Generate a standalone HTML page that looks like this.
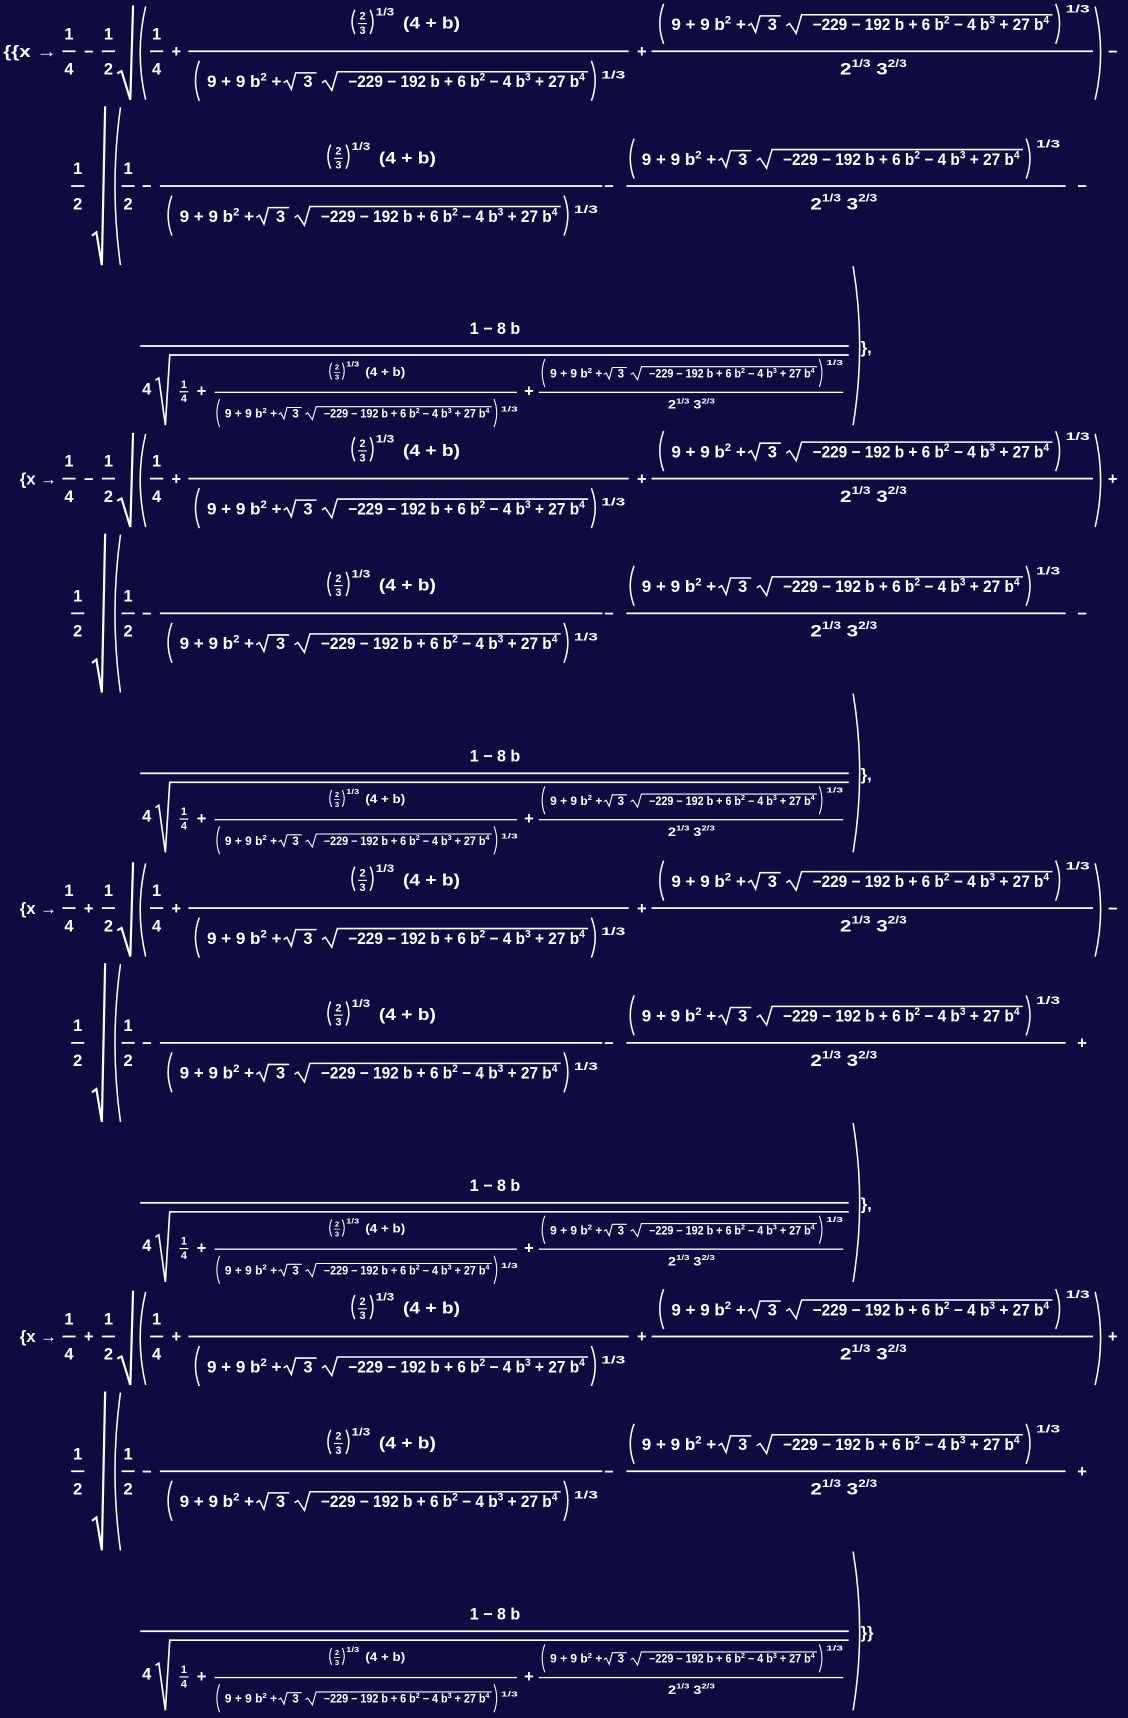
<!DOCTYPE html>
<html><head><meta charset="utf-8"><style>
html,body{margin:0;padding:0;background:#0d0b3f;}
svg{display:block;}
text{fill:#fff;font-family:"Liberation Sans",sans-serif;font-weight:bold;font-size:15px;}
.m{text-anchor:middle;}
.s{font-size:10px;}
path{fill:none;stroke:#fff;stroke-width:1.4;}
.r{stroke-width:2;}
rect{fill:#fff;}
</style></head><body>
<svg width="1128" height="1718" viewBox="0 0 1030 1568" preserveAspectRatio="none" xmlns="http://www.w3.org/2000/svg">
<rect x="0" y="0" width="1030" height="1568" style="fill:#0d0b3f"/>

<!-- ================= BLOCK 1 ================= -->
<g transform="translate(0,0)">
<text x="52" y="52" text-anchor="end" textLength="49" lengthAdjust="spacingAndGlyphs">{{x →</text>
<text x="63" y="36" class="m">1</text><rect x="57" y="46" width="12" height="1.6"/><text x="63" y="68" class="m">4</text>
<text x="81" y="52" class="m">−</text>
<text x="99" y="36" class="m">1</text><rect x="93" y="46" width="12" height="1.6"/><text x="99" y="68" class="m">2</text>
<path class="r" d="M107,67 L111,65 L119,91 L121.5,5"/>
<path d="M133,6 Q123,48 133,91"/>
<text x="143" y="36" class="m">1</text><rect x="137" y="46" width="12" height="1.6"/><text x="143" y="68" class="m">4</text>
<text x="161" y="52" class="m">+</text>
<rect x="172" y="46" width="402" height="1.6"/>
<g transform="translate(370,26)"><path d="M-46,-17 Q-51,-6 -46,5"/><text x="-39" y="-8" class="s m">2</text><rect x="-43" y="-5" width="8" height="1"/><text x="-39" y="5" class="s m">3</text><path d="M-32,-17 Q-27,-6 -32,5"/><text x="-27" y="-12" class="s" textLength="17" lengthAdjust="spacingAndGlyphs">1/3</text><text x="-2" textLength="52" lengthAdjust="spacingAndGlyphs">(4 + b)</text></g>
<g transform="translate(177,79.5)"><path d="M5,-24 Q-2,-6 5,12.5"/><text x="12" textLength="68" lengthAdjust="spacingAndGlyphs">9 + 9 b<tspan dy="-6" font-size="10">2</tspan><tspan dy="6"> +</tspan></text><path d="M82,-4 L85,-6 L89,2 L93,-13 L112,-13"/><text x="100">3</text><path d="M117,-4 L120,-6 L126,3 L131,-14 L360,-14"/><text x="141" textLength="216" lengthAdjust="spacingAndGlyphs">−229 − 192 b + 6 b<tspan dy="-6" font-size="10">2</tspan><tspan dy="6"> − 4 b</tspan><tspan dy="-6" font-size="10">3</tspan><tspan dy="6"> + 27 b</tspan><tspan dy="-6" font-size="10">4</tspan></text><path d="M363,-24 Q370,-6 363,12.5"/><text x="372" y="-8" class="s" textLength="22" lengthAdjust="spacingAndGlyphs">1/3</text></g>
<text x="586" y="52" class="m">+</text>
<rect x="595" y="46" width="403" height="1.6"/>
<g transform="translate(601,27.5)"><path d="M5,-24 Q-2,-6 5,12.5"/><text x="12" textLength="68" lengthAdjust="spacingAndGlyphs">9 + 9 b<tspan dy="-6" font-size="10">2</tspan><tspan dy="6"> +</tspan></text><path d="M82,-4 L85,-6 L89,2 L93,-13 L112,-13"/><text x="100">3</text><path d="M117,-4 L120,-6 L126,3 L131,-14 L360,-14"/><text x="141" textLength="216" lengthAdjust="spacingAndGlyphs">−229 − 192 b + 6 b<tspan dy="-6" font-size="10">2</tspan><tspan dy="6"> − 4 b</tspan><tspan dy="-6" font-size="10">3</tspan><tspan dy="6"> + 27 b</tspan><tspan dy="-6" font-size="10">4</tspan></text><path d="M363,-24 Q370,-6 363,12.5"/><text x="372" y="-16" class="s" textLength="22" lengthAdjust="spacingAndGlyphs">1/3</text></g>
<g transform="translate(797,68)"><text x="-30" textLength="61" lengthAdjust="spacingAndGlyphs">2<tspan dy="-7" font-size="10">1/3</tspan><tspan dy="7"> 3</tspan><tspan dy="-7" font-size="10">2/3</tspan></text></g>
<path d="M1000,6 Q1010,48 1000,91"/>
<text x="1016" y="52" class="m">−</text>

<text x="71" y="159" class="m">1</text><rect x="65" y="169" width="12" height="1.6"/><text x="71" y="191" class="m">2</text>
<path class="r" d="M84,215 L88,212 L93,242 L96,97"/>
<path d="M110,98 Q100,170 110,242"/>
<text x="117" y="159" class="m">1</text><rect x="111" y="169" width="12" height="1.6"/><text x="117" y="191" class="m">2</text>
<text x="134" y="175" class="m">−</text>
<rect x="146" y="169" width="404" height="1.6"/>
<g transform="translate(348,149)"><path d="M-46,-17 Q-51,-6 -46,5"/><text x="-39" y="-8" class="s m">2</text><rect x="-43" y="-5" width="8" height="1"/><text x="-39" y="5" class="s m">3</text><path d="M-32,-17 Q-27,-6 -32,5"/><text x="-27" y="-12" class="s" textLength="17" lengthAdjust="spacingAndGlyphs">1/3</text><text x="-2" textLength="52" lengthAdjust="spacingAndGlyphs">(4 + b)</text></g>
<g transform="translate(152,202.5)"><path d="M5,-24 Q-2,-6 5,12.5"/><text x="12" textLength="68" lengthAdjust="spacingAndGlyphs">9 + 9 b<tspan dy="-6" font-size="10">2</tspan><tspan dy="6"> +</tspan></text><path d="M82,-4 L85,-6 L89,2 L93,-13 L112,-13"/><text x="100">3</text><path d="M117,-4 L120,-6 L126,3 L131,-14 L360,-14"/><text x="141" textLength="216" lengthAdjust="spacingAndGlyphs">−229 − 192 b + 6 b<tspan dy="-6" font-size="10">2</tspan><tspan dy="6"> − 4 b</tspan><tspan dy="-6" font-size="10">3</tspan><tspan dy="6"> + 27 b</tspan><tspan dy="-6" font-size="10">4</tspan></text><path d="M363,-24 Q370,-6 363,12.5"/><text x="372" y="-8" class="s" textLength="22" lengthAdjust="spacingAndGlyphs">1/3</text></g>
<text x="556" y="175" class="m">−</text>
<rect x="572" y="169" width="401" height="1.6"/>
<g transform="translate(574,150.5)"><path d="M5,-24 Q-2,-6 5,12.5"/><text x="12" textLength="68" lengthAdjust="spacingAndGlyphs">9 + 9 b<tspan dy="-6" font-size="10">2</tspan><tspan dy="6"> +</tspan></text><path d="M82,-4 L85,-6 L89,2 L93,-13 L112,-13"/><text x="100">3</text><path d="M117,-4 L120,-6 L126,3 L131,-14 L360,-14"/><text x="141" textLength="216" lengthAdjust="spacingAndGlyphs">−229 − 192 b + 6 b<tspan dy="-6" font-size="10">2</tspan><tspan dy="6"> − 4 b</tspan><tspan dy="-6" font-size="10">3</tspan><tspan dy="6"> + 27 b</tspan><tspan dy="-6" font-size="10">4</tspan></text><path d="M363,-24 Q370,-6 363,12.5"/><text x="372" y="-16" class="s" textLength="22" lengthAdjust="spacingAndGlyphs">1/3</text></g>
<g transform="translate(770,191)"><text x="-30" textLength="61" lengthAdjust="spacingAndGlyphs">2<tspan dy="-7" font-size="10">1/3</tspan><tspan dy="7"> 3</tspan><tspan dy="-7" font-size="10">2/3</tspan></text></g>
<text x="988" y="175" class="m">−</text>

<text x="452" y="305" class="m" textLength="46" lengthAdjust="spacingAndGlyphs">1 − 8 b</text>
<rect x="128" y="315" width="647" height="1.6"/>
<text x="134" y="360" class="m">4</text>
<path d="M142,347 L145,345 L151,388 L155,324 L775,324" style="stroke-width:1.5"/>
<text x="168" y="354" class="s m">1</text><rect x="164" y="357" width="8" height="1.1"/><text x="168" y="367" class="s m">4</text>
<text x="184" y="362" class="m">+</text>
<rect x="196" y="357.5" width="276" height="1.2"/>
<g transform="translate(335,343) scale(0.7)"><path d="M-46,-17 Q-51,-6 -46,5"/><text x="-39" y="-8" class="s m">2</text><rect x="-43" y="-5" width="8" height="1"/><text x="-39" y="5" class="s m">3</text><path d="M-32,-17 Q-27,-6 -32,5"/><text x="-27" y="-12" class="s" textLength="17" lengthAdjust="spacingAndGlyphs">1/3</text><text x="-2" textLength="52" lengthAdjust="spacingAndGlyphs">(4 + b)</text></g>
<g transform="translate(197,381) scale(0.7)"><path d="M5,-24 Q-2,-6 5,12.5"/><text x="12" textLength="68" lengthAdjust="spacingAndGlyphs">9 + 9 b<tspan dy="-6" font-size="10">2</tspan><tspan dy="6"> +</tspan></text><path d="M82,-4 L85,-6 L89,2 L93,-13 L112,-13"/><text x="100">3</text><path d="M117,-4 L120,-6 L126,3 L131,-14 L360,-14"/><text x="141" textLength="216" lengthAdjust="spacingAndGlyphs">−229 − 192 b + 6 b<tspan dy="-6" font-size="10">2</tspan><tspan dy="6"> − 4 b</tspan><tspan dy="-6" font-size="10">3</tspan><tspan dy="6"> + 27 b</tspan><tspan dy="-6" font-size="10">4</tspan></text><path d="M363,-24 Q370,-6 363,12.5"/><text x="372" y="-8" class="s" textLength="22" lengthAdjust="spacingAndGlyphs">1/3</text></g>
<text x="483" y="362" class="m">+</text>
<rect x="492" y="357.5" width="278" height="1.2"/>
<g transform="translate(494,344.5) scale(0.7)"><path d="M5,-24 Q-2,-6 5,12.5"/><text x="12" textLength="68" lengthAdjust="spacingAndGlyphs">9 + 9 b<tspan dy="-6" font-size="10">2</tspan><tspan dy="6"> +</tspan></text><path d="M82,-4 L85,-6 L89,2 L93,-13 L112,-13"/><text x="100">3</text><path d="M117,-4 L120,-6 L126,3 L131,-14 L360,-14"/><text x="141" textLength="216" lengthAdjust="spacingAndGlyphs">−229 − 192 b + 6 b<tspan dy="-6" font-size="10">2</tspan><tspan dy="6"> − 4 b</tspan><tspan dy="-6" font-size="10">3</tspan><tspan dy="6"> + 27 b</tspan><tspan dy="-6" font-size="10">4</tspan></text><path d="M363,-24 Q370,-6 363,12.5"/><text x="372" y="-16" class="s" textLength="22" lengthAdjust="spacingAndGlyphs">1/3</text></g>
<g transform="translate(631,373) scale(0.7)"><text x="-30" textLength="61" lengthAdjust="spacingAndGlyphs">2<tspan dy="-7" font-size="10">1/3</tspan><tspan dy="7"> 3</tspan><tspan dy="-7" font-size="10">2/3</tspan></text></g>
<path d="M779,243 Q791,315 779,388"/>
<text x="786" y="322">},</text>
</g>

<!-- ================= BLOCK 2 ================= -->
<g transform="translate(0,390)">
<text x="52" y="52" text-anchor="end" textLength="34" lengthAdjust="spacingAndGlyphs">{x →</text>
<text x="63" y="36" class="m">1</text><rect x="57" y="46" width="12" height="1.6"/><text x="63" y="68" class="m">4</text>
<text x="81" y="52" class="m">−</text>
<text x="99" y="36" class="m">1</text><rect x="93" y="46" width="12" height="1.6"/><text x="99" y="68" class="m">2</text>
<path class="r" d="M107,67 L111,65 L119,91 L121.5,5"/>
<path d="M133,6 Q123,48 133,91"/>
<text x="143" y="36" class="m">1</text><rect x="137" y="46" width="12" height="1.6"/><text x="143" y="68" class="m">4</text>
<text x="161" y="52" class="m">+</text>
<rect x="172" y="46" width="402" height="1.6"/>
<g transform="translate(370,26)"><path d="M-46,-17 Q-51,-6 -46,5"/><text x="-39" y="-8" class="s m">2</text><rect x="-43" y="-5" width="8" height="1"/><text x="-39" y="5" class="s m">3</text><path d="M-32,-17 Q-27,-6 -32,5"/><text x="-27" y="-12" class="s" textLength="17" lengthAdjust="spacingAndGlyphs">1/3</text><text x="-2" textLength="52" lengthAdjust="spacingAndGlyphs">(4 + b)</text></g>
<g transform="translate(177,79.5)"><path d="M5,-24 Q-2,-6 5,12.5"/><text x="12" textLength="68" lengthAdjust="spacingAndGlyphs">9 + 9 b<tspan dy="-6" font-size="10">2</tspan><tspan dy="6"> +</tspan></text><path d="M82,-4 L85,-6 L89,2 L93,-13 L112,-13"/><text x="100">3</text><path d="M117,-4 L120,-6 L126,3 L131,-14 L360,-14"/><text x="141" textLength="216" lengthAdjust="spacingAndGlyphs">−229 − 192 b + 6 b<tspan dy="-6" font-size="10">2</tspan><tspan dy="6"> − 4 b</tspan><tspan dy="-6" font-size="10">3</tspan><tspan dy="6"> + 27 b</tspan><tspan dy="-6" font-size="10">4</tspan></text><path d="M363,-24 Q370,-6 363,12.5"/><text x="372" y="-8" class="s" textLength="22" lengthAdjust="spacingAndGlyphs">1/3</text></g>
<text x="586" y="52" class="m">+</text>
<rect x="595" y="46" width="403" height="1.6"/>
<g transform="translate(601,27.5)"><path d="M5,-24 Q-2,-6 5,12.5"/><text x="12" textLength="68" lengthAdjust="spacingAndGlyphs">9 + 9 b<tspan dy="-6" font-size="10">2</tspan><tspan dy="6"> +</tspan></text><path d="M82,-4 L85,-6 L89,2 L93,-13 L112,-13"/><text x="100">3</text><path d="M117,-4 L120,-6 L126,3 L131,-14 L360,-14"/><text x="141" textLength="216" lengthAdjust="spacingAndGlyphs">−229 − 192 b + 6 b<tspan dy="-6" font-size="10">2</tspan><tspan dy="6"> − 4 b</tspan><tspan dy="-6" font-size="10">3</tspan><tspan dy="6"> + 27 b</tspan><tspan dy="-6" font-size="10">4</tspan></text><path d="M363,-24 Q370,-6 363,12.5"/><text x="372" y="-16" class="s" textLength="22" lengthAdjust="spacingAndGlyphs">1/3</text></g>
<g transform="translate(797,68)"><text x="-30" textLength="61" lengthAdjust="spacingAndGlyphs">2<tspan dy="-7" font-size="10">1/3</tspan><tspan dy="7"> 3</tspan><tspan dy="-7" font-size="10">2/3</tspan></text></g>
<path d="M1000,6 Q1010,48 1000,91"/>
<text x="1016" y="52" class="m">+</text>

<text x="71" y="159" class="m">1</text><rect x="65" y="169" width="12" height="1.6"/><text x="71" y="191" class="m">2</text>
<path class="r" d="M84,215 L88,212 L93,242 L96,97"/>
<path d="M110,98 Q100,170 110,242"/>
<text x="117" y="159" class="m">1</text><rect x="111" y="169" width="12" height="1.6"/><text x="117" y="191" class="m">2</text>
<text x="134" y="175" class="m">−</text>
<rect x="146" y="169" width="404" height="1.6"/>
<g transform="translate(348,149)"><path d="M-46,-17 Q-51,-6 -46,5"/><text x="-39" y="-8" class="s m">2</text><rect x="-43" y="-5" width="8" height="1"/><text x="-39" y="5" class="s m">3</text><path d="M-32,-17 Q-27,-6 -32,5"/><text x="-27" y="-12" class="s" textLength="17" lengthAdjust="spacingAndGlyphs">1/3</text><text x="-2" textLength="52" lengthAdjust="spacingAndGlyphs">(4 + b)</text></g>
<g transform="translate(152,202.5)"><path d="M5,-24 Q-2,-6 5,12.5"/><text x="12" textLength="68" lengthAdjust="spacingAndGlyphs">9 + 9 b<tspan dy="-6" font-size="10">2</tspan><tspan dy="6"> +</tspan></text><path d="M82,-4 L85,-6 L89,2 L93,-13 L112,-13"/><text x="100">3</text><path d="M117,-4 L120,-6 L126,3 L131,-14 L360,-14"/><text x="141" textLength="216" lengthAdjust="spacingAndGlyphs">−229 − 192 b + 6 b<tspan dy="-6" font-size="10">2</tspan><tspan dy="6"> − 4 b</tspan><tspan dy="-6" font-size="10">3</tspan><tspan dy="6"> + 27 b</tspan><tspan dy="-6" font-size="10">4</tspan></text><path d="M363,-24 Q370,-6 363,12.5"/><text x="372" y="-8" class="s" textLength="22" lengthAdjust="spacingAndGlyphs">1/3</text></g>
<text x="556" y="175" class="m">−</text>
<rect x="572" y="169" width="401" height="1.6"/>
<g transform="translate(574,150.5)"><path d="M5,-24 Q-2,-6 5,12.5"/><text x="12" textLength="68" lengthAdjust="spacingAndGlyphs">9 + 9 b<tspan dy="-6" font-size="10">2</tspan><tspan dy="6"> +</tspan></text><path d="M82,-4 L85,-6 L89,2 L93,-13 L112,-13"/><text x="100">3</text><path d="M117,-4 L120,-6 L126,3 L131,-14 L360,-14"/><text x="141" textLength="216" lengthAdjust="spacingAndGlyphs">−229 − 192 b + 6 b<tspan dy="-6" font-size="10">2</tspan><tspan dy="6"> − 4 b</tspan><tspan dy="-6" font-size="10">3</tspan><tspan dy="6"> + 27 b</tspan><tspan dy="-6" font-size="10">4</tspan></text><path d="M363,-24 Q370,-6 363,12.5"/><text x="372" y="-16" class="s" textLength="22" lengthAdjust="spacingAndGlyphs">1/3</text></g>
<g transform="translate(770,191)"><text x="-30" textLength="61" lengthAdjust="spacingAndGlyphs">2<tspan dy="-7" font-size="10">1/3</tspan><tspan dy="7"> 3</tspan><tspan dy="-7" font-size="10">2/3</tspan></text></g>
<text x="988" y="175" class="m">−</text>

<text x="452" y="305" class="m" textLength="46" lengthAdjust="spacingAndGlyphs">1 − 8 b</text>
<rect x="128" y="315" width="647" height="1.6"/>
<text x="134" y="360" class="m">4</text>
<path d="M142,347 L145,345 L151,388 L155,324 L775,324" style="stroke-width:1.5"/>
<text x="168" y="354" class="s m">1</text><rect x="164" y="357" width="8" height="1.1"/><text x="168" y="367" class="s m">4</text>
<text x="184" y="362" class="m">+</text>
<rect x="196" y="357.5" width="276" height="1.2"/>
<g transform="translate(335,343) scale(0.7)"><path d="M-46,-17 Q-51,-6 -46,5"/><text x="-39" y="-8" class="s m">2</text><rect x="-43" y="-5" width="8" height="1"/><text x="-39" y="5" class="s m">3</text><path d="M-32,-17 Q-27,-6 -32,5"/><text x="-27" y="-12" class="s" textLength="17" lengthAdjust="spacingAndGlyphs">1/3</text><text x="-2" textLength="52" lengthAdjust="spacingAndGlyphs">(4 + b)</text></g>
<g transform="translate(197,381) scale(0.7)"><path d="M5,-24 Q-2,-6 5,12.5"/><text x="12" textLength="68" lengthAdjust="spacingAndGlyphs">9 + 9 b<tspan dy="-6" font-size="10">2</tspan><tspan dy="6"> +</tspan></text><path d="M82,-4 L85,-6 L89,2 L93,-13 L112,-13"/><text x="100">3</text><path d="M117,-4 L120,-6 L126,3 L131,-14 L360,-14"/><text x="141" textLength="216" lengthAdjust="spacingAndGlyphs">−229 − 192 b + 6 b<tspan dy="-6" font-size="10">2</tspan><tspan dy="6"> − 4 b</tspan><tspan dy="-6" font-size="10">3</tspan><tspan dy="6"> + 27 b</tspan><tspan dy="-6" font-size="10">4</tspan></text><path d="M363,-24 Q370,-6 363,12.5"/><text x="372" y="-8" class="s" textLength="22" lengthAdjust="spacingAndGlyphs">1/3</text></g>
<text x="483" y="362" class="m">+</text>
<rect x="492" y="357.5" width="278" height="1.2"/>
<g transform="translate(494,344.5) scale(0.7)"><path d="M5,-24 Q-2,-6 5,12.5"/><text x="12" textLength="68" lengthAdjust="spacingAndGlyphs">9 + 9 b<tspan dy="-6" font-size="10">2</tspan><tspan dy="6"> +</tspan></text><path d="M82,-4 L85,-6 L89,2 L93,-13 L112,-13"/><text x="100">3</text><path d="M117,-4 L120,-6 L126,3 L131,-14 L360,-14"/><text x="141" textLength="216" lengthAdjust="spacingAndGlyphs">−229 − 192 b + 6 b<tspan dy="-6" font-size="10">2</tspan><tspan dy="6"> − 4 b</tspan><tspan dy="-6" font-size="10">3</tspan><tspan dy="6"> + 27 b</tspan><tspan dy="-6" font-size="10">4</tspan></text><path d="M363,-24 Q370,-6 363,12.5"/><text x="372" y="-16" class="s" textLength="22" lengthAdjust="spacingAndGlyphs">1/3</text></g>
<g transform="translate(631,373) scale(0.7)"><text x="-30" textLength="61" lengthAdjust="spacingAndGlyphs">2<tspan dy="-7" font-size="10">1/3</tspan><tspan dy="7"> 3</tspan><tspan dy="-7" font-size="10">2/3</tspan></text></g>
<path d="M779,243 Q791,315 779,388"/>
<text x="786" y="322">},</text>
</g>

<!-- ================= BLOCK 3 ================= -->
<g transform="translate(0,782)">
<text x="52" y="52" text-anchor="end" textLength="34" lengthAdjust="spacingAndGlyphs">{x →</text>
<text x="63" y="36" class="m">1</text><rect x="57" y="46" width="12" height="1.6"/><text x="63" y="68" class="m">4</text>
<text x="81" y="52" class="m">+</text>
<text x="99" y="36" class="m">1</text><rect x="93" y="46" width="12" height="1.6"/><text x="99" y="68" class="m">2</text>
<path class="r" d="M107,67 L111,65 L119,91 L121.5,5"/>
<path d="M133,6 Q123,48 133,91"/>
<text x="143" y="36" class="m">1</text><rect x="137" y="46" width="12" height="1.6"/><text x="143" y="68" class="m">4</text>
<text x="161" y="52" class="m">+</text>
<rect x="172" y="46" width="402" height="1.6"/>
<g transform="translate(370,26)"><path d="M-46,-17 Q-51,-6 -46,5"/><text x="-39" y="-8" class="s m">2</text><rect x="-43" y="-5" width="8" height="1"/><text x="-39" y="5" class="s m">3</text><path d="M-32,-17 Q-27,-6 -32,5"/><text x="-27" y="-12" class="s" textLength="17" lengthAdjust="spacingAndGlyphs">1/3</text><text x="-2" textLength="52" lengthAdjust="spacingAndGlyphs">(4 + b)</text></g>
<g transform="translate(177,79.5)"><path d="M5,-24 Q-2,-6 5,12.5"/><text x="12" textLength="68" lengthAdjust="spacingAndGlyphs">9 + 9 b<tspan dy="-6" font-size="10">2</tspan><tspan dy="6"> +</tspan></text><path d="M82,-4 L85,-6 L89,2 L93,-13 L112,-13"/><text x="100">3</text><path d="M117,-4 L120,-6 L126,3 L131,-14 L360,-14"/><text x="141" textLength="216" lengthAdjust="spacingAndGlyphs">−229 − 192 b + 6 b<tspan dy="-6" font-size="10">2</tspan><tspan dy="6"> − 4 b</tspan><tspan dy="-6" font-size="10">3</tspan><tspan dy="6"> + 27 b</tspan><tspan dy="-6" font-size="10">4</tspan></text><path d="M363,-24 Q370,-6 363,12.5"/><text x="372" y="-8" class="s" textLength="22" lengthAdjust="spacingAndGlyphs">1/3</text></g>
<text x="586" y="52" class="m">+</text>
<rect x="595" y="46" width="403" height="1.6"/>
<g transform="translate(601,27.5)"><path d="M5,-24 Q-2,-6 5,12.5"/><text x="12" textLength="68" lengthAdjust="spacingAndGlyphs">9 + 9 b<tspan dy="-6" font-size="10">2</tspan><tspan dy="6"> +</tspan></text><path d="M82,-4 L85,-6 L89,2 L93,-13 L112,-13"/><text x="100">3</text><path d="M117,-4 L120,-6 L126,3 L131,-14 L360,-14"/><text x="141" textLength="216" lengthAdjust="spacingAndGlyphs">−229 − 192 b + 6 b<tspan dy="-6" font-size="10">2</tspan><tspan dy="6"> − 4 b</tspan><tspan dy="-6" font-size="10">3</tspan><tspan dy="6"> + 27 b</tspan><tspan dy="-6" font-size="10">4</tspan></text><path d="M363,-24 Q370,-6 363,12.5"/><text x="372" y="-16" class="s" textLength="22" lengthAdjust="spacingAndGlyphs">1/3</text></g>
<g transform="translate(797,68)"><text x="-30" textLength="61" lengthAdjust="spacingAndGlyphs">2<tspan dy="-7" font-size="10">1/3</tspan><tspan dy="7"> 3</tspan><tspan dy="-7" font-size="10">2/3</tspan></text></g>
<path d="M1000,6 Q1010,48 1000,91"/>
<text x="1016" y="52" class="m">−</text>

<text x="71" y="159" class="m">1</text><rect x="65" y="169" width="12" height="1.6"/><text x="71" y="191" class="m">2</text>
<path class="r" d="M84,215 L88,212 L93,242 L96,97"/>
<path d="M110,98 Q100,170 110,242"/>
<text x="117" y="159" class="m">1</text><rect x="111" y="169" width="12" height="1.6"/><text x="117" y="191" class="m">2</text>
<text x="134" y="175" class="m">−</text>
<rect x="146" y="169" width="404" height="1.6"/>
<g transform="translate(348,149)"><path d="M-46,-17 Q-51,-6 -46,5"/><text x="-39" y="-8" class="s m">2</text><rect x="-43" y="-5" width="8" height="1"/><text x="-39" y="5" class="s m">3</text><path d="M-32,-17 Q-27,-6 -32,5"/><text x="-27" y="-12" class="s" textLength="17" lengthAdjust="spacingAndGlyphs">1/3</text><text x="-2" textLength="52" lengthAdjust="spacingAndGlyphs">(4 + b)</text></g>
<g transform="translate(152,202.5)"><path d="M5,-24 Q-2,-6 5,12.5"/><text x="12" textLength="68" lengthAdjust="spacingAndGlyphs">9 + 9 b<tspan dy="-6" font-size="10">2</tspan><tspan dy="6"> +</tspan></text><path d="M82,-4 L85,-6 L89,2 L93,-13 L112,-13"/><text x="100">3</text><path d="M117,-4 L120,-6 L126,3 L131,-14 L360,-14"/><text x="141" textLength="216" lengthAdjust="spacingAndGlyphs">−229 − 192 b + 6 b<tspan dy="-6" font-size="10">2</tspan><tspan dy="6"> − 4 b</tspan><tspan dy="-6" font-size="10">3</tspan><tspan dy="6"> + 27 b</tspan><tspan dy="-6" font-size="10">4</tspan></text><path d="M363,-24 Q370,-6 363,12.5"/><text x="372" y="-8" class="s" textLength="22" lengthAdjust="spacingAndGlyphs">1/3</text></g>
<text x="556" y="175" class="m">−</text>
<rect x="572" y="169" width="401" height="1.6"/>
<g transform="translate(574,150.5)"><path d="M5,-24 Q-2,-6 5,12.5"/><text x="12" textLength="68" lengthAdjust="spacingAndGlyphs">9 + 9 b<tspan dy="-6" font-size="10">2</tspan><tspan dy="6"> +</tspan></text><path d="M82,-4 L85,-6 L89,2 L93,-13 L112,-13"/><text x="100">3</text><path d="M117,-4 L120,-6 L126,3 L131,-14 L360,-14"/><text x="141" textLength="216" lengthAdjust="spacingAndGlyphs">−229 − 192 b + 6 b<tspan dy="-6" font-size="10">2</tspan><tspan dy="6"> − 4 b</tspan><tspan dy="-6" font-size="10">3</tspan><tspan dy="6"> + 27 b</tspan><tspan dy="-6" font-size="10">4</tspan></text><path d="M363,-24 Q370,-6 363,12.5"/><text x="372" y="-16" class="s" textLength="22" lengthAdjust="spacingAndGlyphs">1/3</text></g>
<g transform="translate(770,191)"><text x="-30" textLength="61" lengthAdjust="spacingAndGlyphs">2<tspan dy="-7" font-size="10">1/3</tspan><tspan dy="7"> 3</tspan><tspan dy="-7" font-size="10">2/3</tspan></text></g>
<text x="988" y="175" class="m">+</text>

<text x="452" y="305" class="m" textLength="46" lengthAdjust="spacingAndGlyphs">1 − 8 b</text>
<rect x="128" y="315" width="647" height="1.6"/>
<text x="134" y="360" class="m">4</text>
<path d="M142,347 L145,345 L151,388 L155,324 L775,324" style="stroke-width:1.5"/>
<text x="168" y="354" class="s m">1</text><rect x="164" y="357" width="8" height="1.1"/><text x="168" y="367" class="s m">4</text>
<text x="184" y="362" class="m">+</text>
<rect x="196" y="357.5" width="276" height="1.2"/>
<g transform="translate(335,343) scale(0.7)"><path d="M-46,-17 Q-51,-6 -46,5"/><text x="-39" y="-8" class="s m">2</text><rect x="-43" y="-5" width="8" height="1"/><text x="-39" y="5" class="s m">3</text><path d="M-32,-17 Q-27,-6 -32,5"/><text x="-27" y="-12" class="s" textLength="17" lengthAdjust="spacingAndGlyphs">1/3</text><text x="-2" textLength="52" lengthAdjust="spacingAndGlyphs">(4 + b)</text></g>
<g transform="translate(197,381) scale(0.7)"><path d="M5,-24 Q-2,-6 5,12.5"/><text x="12" textLength="68" lengthAdjust="spacingAndGlyphs">9 + 9 b<tspan dy="-6" font-size="10">2</tspan><tspan dy="6"> +</tspan></text><path d="M82,-4 L85,-6 L89,2 L93,-13 L112,-13"/><text x="100">3</text><path d="M117,-4 L120,-6 L126,3 L131,-14 L360,-14"/><text x="141" textLength="216" lengthAdjust="spacingAndGlyphs">−229 − 192 b + 6 b<tspan dy="-6" font-size="10">2</tspan><tspan dy="6"> − 4 b</tspan><tspan dy="-6" font-size="10">3</tspan><tspan dy="6"> + 27 b</tspan><tspan dy="-6" font-size="10">4</tspan></text><path d="M363,-24 Q370,-6 363,12.5"/><text x="372" y="-8" class="s" textLength="22" lengthAdjust="spacingAndGlyphs">1/3</text></g>
<text x="483" y="362" class="m">+</text>
<rect x="492" y="357.5" width="278" height="1.2"/>
<g transform="translate(494,344.5) scale(0.7)"><path d="M5,-24 Q-2,-6 5,12.5"/><text x="12" textLength="68" lengthAdjust="spacingAndGlyphs">9 + 9 b<tspan dy="-6" font-size="10">2</tspan><tspan dy="6"> +</tspan></text><path d="M82,-4 L85,-6 L89,2 L93,-13 L112,-13"/><text x="100">3</text><path d="M117,-4 L120,-6 L126,3 L131,-14 L360,-14"/><text x="141" textLength="216" lengthAdjust="spacingAndGlyphs">−229 − 192 b + 6 b<tspan dy="-6" font-size="10">2</tspan><tspan dy="6"> − 4 b</tspan><tspan dy="-6" font-size="10">3</tspan><tspan dy="6"> + 27 b</tspan><tspan dy="-6" font-size="10">4</tspan></text><path d="M363,-24 Q370,-6 363,12.5"/><text x="372" y="-16" class="s" textLength="22" lengthAdjust="spacingAndGlyphs">1/3</text></g>
<g transform="translate(631,373) scale(0.7)"><text x="-30" textLength="61" lengthAdjust="spacingAndGlyphs">2<tspan dy="-7" font-size="10">1/3</tspan><tspan dy="7"> 3</tspan><tspan dy="-7" font-size="10">2/3</tspan></text></g>
<path d="M779,243 Q791,315 779,388"/>
<text x="786" y="322">},</text>
</g>

<!-- ================= BLOCK 4 ================= -->
<g transform="translate(0,1173)">
<text x="52" y="52" text-anchor="end" textLength="34" lengthAdjust="spacingAndGlyphs">{x →</text>
<text x="63" y="36" class="m">1</text><rect x="57" y="46" width="12" height="1.6"/><text x="63" y="68" class="m">4</text>
<text x="81" y="52" class="m">+</text>
<text x="99" y="36" class="m">1</text><rect x="93" y="46" width="12" height="1.6"/><text x="99" y="68" class="m">2</text>
<path class="r" d="M107,67 L111,65 L119,91 L121.5,5"/>
<path d="M133,6 Q123,48 133,91"/>
<text x="143" y="36" class="m">1</text><rect x="137" y="46" width="12" height="1.6"/><text x="143" y="68" class="m">4</text>
<text x="161" y="52" class="m">+</text>
<rect x="172" y="46" width="402" height="1.6"/>
<g transform="translate(370,26)"><path d="M-46,-17 Q-51,-6 -46,5"/><text x="-39" y="-8" class="s m">2</text><rect x="-43" y="-5" width="8" height="1"/><text x="-39" y="5" class="s m">3</text><path d="M-32,-17 Q-27,-6 -32,5"/><text x="-27" y="-12" class="s" textLength="17" lengthAdjust="spacingAndGlyphs">1/3</text><text x="-2" textLength="52" lengthAdjust="spacingAndGlyphs">(4 + b)</text></g>
<g transform="translate(177,79.5)"><path d="M5,-24 Q-2,-6 5,12.5"/><text x="12" textLength="68" lengthAdjust="spacingAndGlyphs">9 + 9 b<tspan dy="-6" font-size="10">2</tspan><tspan dy="6"> +</tspan></text><path d="M82,-4 L85,-6 L89,2 L93,-13 L112,-13"/><text x="100">3</text><path d="M117,-4 L120,-6 L126,3 L131,-14 L360,-14"/><text x="141" textLength="216" lengthAdjust="spacingAndGlyphs">−229 − 192 b + 6 b<tspan dy="-6" font-size="10">2</tspan><tspan dy="6"> − 4 b</tspan><tspan dy="-6" font-size="10">3</tspan><tspan dy="6"> + 27 b</tspan><tspan dy="-6" font-size="10">4</tspan></text><path d="M363,-24 Q370,-6 363,12.5"/><text x="372" y="-8" class="s" textLength="22" lengthAdjust="spacingAndGlyphs">1/3</text></g>
<text x="586" y="52" class="m">+</text>
<rect x="595" y="46" width="403" height="1.6"/>
<g transform="translate(601,27.5)"><path d="M5,-24 Q-2,-6 5,12.5"/><text x="12" textLength="68" lengthAdjust="spacingAndGlyphs">9 + 9 b<tspan dy="-6" font-size="10">2</tspan><tspan dy="6"> +</tspan></text><path d="M82,-4 L85,-6 L89,2 L93,-13 L112,-13"/><text x="100">3</text><path d="M117,-4 L120,-6 L126,3 L131,-14 L360,-14"/><text x="141" textLength="216" lengthAdjust="spacingAndGlyphs">−229 − 192 b + 6 b<tspan dy="-6" font-size="10">2</tspan><tspan dy="6"> − 4 b</tspan><tspan dy="-6" font-size="10">3</tspan><tspan dy="6"> + 27 b</tspan><tspan dy="-6" font-size="10">4</tspan></text><path d="M363,-24 Q370,-6 363,12.5"/><text x="372" y="-16" class="s" textLength="22" lengthAdjust="spacingAndGlyphs">1/3</text></g>
<g transform="translate(797,68)"><text x="-30" textLength="61" lengthAdjust="spacingAndGlyphs">2<tspan dy="-7" font-size="10">1/3</tspan><tspan dy="7"> 3</tspan><tspan dy="-7" font-size="10">2/3</tspan></text></g>
<path d="M1000,6 Q1010,48 1000,91"/>
<text x="1016" y="52" class="m">+</text>

<text x="71" y="159" class="m">1</text><rect x="65" y="169" width="12" height="1.6"/><text x="71" y="191" class="m">2</text>
<path class="r" d="M84,215 L88,212 L93,242 L96,97"/>
<path d="M110,98 Q100,170 110,242"/>
<text x="117" y="159" class="m">1</text><rect x="111" y="169" width="12" height="1.6"/><text x="117" y="191" class="m">2</text>
<text x="134" y="175" class="m">−</text>
<rect x="146" y="169" width="404" height="1.6"/>
<g transform="translate(348,149)"><path d="M-46,-17 Q-51,-6 -46,5"/><text x="-39" y="-8" class="s m">2</text><rect x="-43" y="-5" width="8" height="1"/><text x="-39" y="5" class="s m">3</text><path d="M-32,-17 Q-27,-6 -32,5"/><text x="-27" y="-12" class="s" textLength="17" lengthAdjust="spacingAndGlyphs">1/3</text><text x="-2" textLength="52" lengthAdjust="spacingAndGlyphs">(4 + b)</text></g>
<g transform="translate(152,202.5)"><path d="M5,-24 Q-2,-6 5,12.5"/><text x="12" textLength="68" lengthAdjust="spacingAndGlyphs">9 + 9 b<tspan dy="-6" font-size="10">2</tspan><tspan dy="6"> +</tspan></text><path d="M82,-4 L85,-6 L89,2 L93,-13 L112,-13"/><text x="100">3</text><path d="M117,-4 L120,-6 L126,3 L131,-14 L360,-14"/><text x="141" textLength="216" lengthAdjust="spacingAndGlyphs">−229 − 192 b + 6 b<tspan dy="-6" font-size="10">2</tspan><tspan dy="6"> − 4 b</tspan><tspan dy="-6" font-size="10">3</tspan><tspan dy="6"> + 27 b</tspan><tspan dy="-6" font-size="10">4</tspan></text><path d="M363,-24 Q370,-6 363,12.5"/><text x="372" y="-8" class="s" textLength="22" lengthAdjust="spacingAndGlyphs">1/3</text></g>
<text x="556" y="175" class="m">−</text>
<rect x="572" y="169" width="401" height="1.6"/>
<g transform="translate(574,150.5)"><path d="M5,-24 Q-2,-6 5,12.5"/><text x="12" textLength="68" lengthAdjust="spacingAndGlyphs">9 + 9 b<tspan dy="-6" font-size="10">2</tspan><tspan dy="6"> +</tspan></text><path d="M82,-4 L85,-6 L89,2 L93,-13 L112,-13"/><text x="100">3</text><path d="M117,-4 L120,-6 L126,3 L131,-14 L360,-14"/><text x="141" textLength="216" lengthAdjust="spacingAndGlyphs">−229 − 192 b + 6 b<tspan dy="-6" font-size="10">2</tspan><tspan dy="6"> − 4 b</tspan><tspan dy="-6" font-size="10">3</tspan><tspan dy="6"> + 27 b</tspan><tspan dy="-6" font-size="10">4</tspan></text><path d="M363,-24 Q370,-6 363,12.5"/><text x="372" y="-16" class="s" textLength="22" lengthAdjust="spacingAndGlyphs">1/3</text></g>
<g transform="translate(770,191)"><text x="-30" textLength="61" lengthAdjust="spacingAndGlyphs">2<tspan dy="-7" font-size="10">1/3</tspan><tspan dy="7"> 3</tspan><tspan dy="-7" font-size="10">2/3</tspan></text></g>
<text x="988" y="175" class="m">+</text>

<text x="452" y="305" class="m" textLength="46" lengthAdjust="spacingAndGlyphs">1 − 8 b</text>
<rect x="128" y="315" width="647" height="1.6"/>
<text x="134" y="360" class="m">4</text>
<path d="M142,347 L145,345 L151,388 L155,324 L775,324" style="stroke-width:1.5"/>
<text x="168" y="354" class="s m">1</text><rect x="164" y="357" width="8" height="1.1"/><text x="168" y="367" class="s m">4</text>
<text x="184" y="362" class="m">+</text>
<rect x="196" y="357.5" width="276" height="1.2"/>
<g transform="translate(335,343) scale(0.7)"><path d="M-46,-17 Q-51,-6 -46,5"/><text x="-39" y="-8" class="s m">2</text><rect x="-43" y="-5" width="8" height="1"/><text x="-39" y="5" class="s m">3</text><path d="M-32,-17 Q-27,-6 -32,5"/><text x="-27" y="-12" class="s" textLength="17" lengthAdjust="spacingAndGlyphs">1/3</text><text x="-2" textLength="52" lengthAdjust="spacingAndGlyphs">(4 + b)</text></g>
<g transform="translate(197,381) scale(0.7)"><path d="M5,-24 Q-2,-6 5,12.5"/><text x="12" textLength="68" lengthAdjust="spacingAndGlyphs">9 + 9 b<tspan dy="-6" font-size="10">2</tspan><tspan dy="6"> +</tspan></text><path d="M82,-4 L85,-6 L89,2 L93,-13 L112,-13"/><text x="100">3</text><path d="M117,-4 L120,-6 L126,3 L131,-14 L360,-14"/><text x="141" textLength="216" lengthAdjust="spacingAndGlyphs">−229 − 192 b + 6 b<tspan dy="-6" font-size="10">2</tspan><tspan dy="6"> − 4 b</tspan><tspan dy="-6" font-size="10">3</tspan><tspan dy="6"> + 27 b</tspan><tspan dy="-6" font-size="10">4</tspan></text><path d="M363,-24 Q370,-6 363,12.5"/><text x="372" y="-8" class="s" textLength="22" lengthAdjust="spacingAndGlyphs">1/3</text></g>
<text x="483" y="362" class="m">+</text>
<rect x="492" y="357.5" width="278" height="1.2"/>
<g transform="translate(494,344.5) scale(0.7)"><path d="M5,-24 Q-2,-6 5,12.5"/><text x="12" textLength="68" lengthAdjust="spacingAndGlyphs">9 + 9 b<tspan dy="-6" font-size="10">2</tspan><tspan dy="6"> +</tspan></text><path d="M82,-4 L85,-6 L89,2 L93,-13 L112,-13"/><text x="100">3</text><path d="M117,-4 L120,-6 L126,3 L131,-14 L360,-14"/><text x="141" textLength="216" lengthAdjust="spacingAndGlyphs">−229 − 192 b + 6 b<tspan dy="-6" font-size="10">2</tspan><tspan dy="6"> − 4 b</tspan><tspan dy="-6" font-size="10">3</tspan><tspan dy="6"> + 27 b</tspan><tspan dy="-6" font-size="10">4</tspan></text><path d="M363,-24 Q370,-6 363,12.5"/><text x="372" y="-16" class="s" textLength="22" lengthAdjust="spacingAndGlyphs">1/3</text></g>
<g transform="translate(631,373) scale(0.7)"><text x="-30" textLength="61" lengthAdjust="spacingAndGlyphs">2<tspan dy="-7" font-size="10">1/3</tspan><tspan dy="7"> 3</tspan><tspan dy="-7" font-size="10">2/3</tspan></text></g>
<path d="M779,243 Q791,315 779,388"/>
<text x="786" y="322">}}</text>
</g>
</svg>
</body></html>
